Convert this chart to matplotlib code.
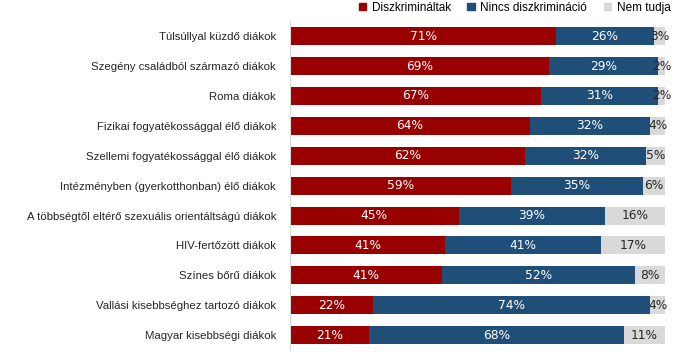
import matplotlib.pyplot as plt
from matplotlib.patches import Patch

categories = [
    "Túlsúllyal küzdő diákok",
    "Szegény családból származó diákok",
    "Roma diákok",
    "Fizikai fogyatékossággal élő diákok",
    "Szellemi fogyatékossággal élő diákok",
    "Intézményben (gyerkotthonban) élő diákok",
    "A többségtől eltérő szexuális orientáltságú diákok",
    "HIV-fertőzött diákok",
    "Színes bőrű diákok",
    "Vallási kisebbséghez tartozó diákok",
    "Magyar kisebbségi diákok",
]
discriminated = [71, 69, 67, 64, 62, 59, 45, 41, 41, 22, 21]
no_discrimination = [26, 29, 31, 32, 32, 35, 39, 41, 52, 74, 68]
dont_know = [3, 2, 2, 4, 5, 6, 16, 17, 8, 4, 11]

series_names = ["Diszkrimináltak", "Nincs diszkrimináció", "Nem tudja"]
colors = ["#990000", "#1f4e79", "#d9d9d9"]
text_colors = ["white", "white", "#262626"]

plt.rcParams["font.family"] = ["Liberation Sans", "DejaVu Sans"]

fig = plt.figure(figsize=(6.8, 3.54), dpi=100)
ax = fig.add_axes([0.4265, 0.011, 0.5515, 0.929])

# the original chart is 100% stacked, so each row is scaled to its own total
totals = [a + b + c for a, b, c in zip(discriminated, no_discrimination, dont_know)]

y = list(range(len(categories)))
left = [0] * len(categories)
for values, color, tcolor in zip(
    [discriminated, no_discrimination, dont_know], colors, text_colors
):
    widths = [v / t * 100 for v, t in zip(values, totals)]
    ax.barh(y, widths, left=left, height=0.6, color=color)
    for yi, v, w, l in zip(y, values, widths, left):
        ax.text(l + w / 2, yi, f"{v}%", ha="center", va="center",
                color=tcolor, fontsize=8.8, family="DejaVu Sans")
    left = [a + b for a, b in zip(left, widths)]

ax.set_xlim(0, 100)
ax.set_ylim(len(categories) - 0.5, -0.5)
ax.set_yticks(y)
ax.set_yticklabels(categories, fontsize=8.2, color="#262626")
ax.tick_params(axis="y", length=0, pad=10)
ax.set_xticks([])
for side in ["top", "right", "bottom"]:
    ax.spines[side].set_visible(False)
ax.spines["left"].set_color("#d9d9d9")

handles = [Patch(color=c, label=n) for c, n in zip(colors, series_names)]
fig.legend(handles=handles, loc="upper left", bbox_to_anchor=(0.512, 1.025),
           ncol=3, frameon=False, fontsize=8.5, handlelength=0.6,
           handleheight=0.6, handletextpad=0.5, columnspacing=1.4)

fig.savefig("out.png", dpi=100)
